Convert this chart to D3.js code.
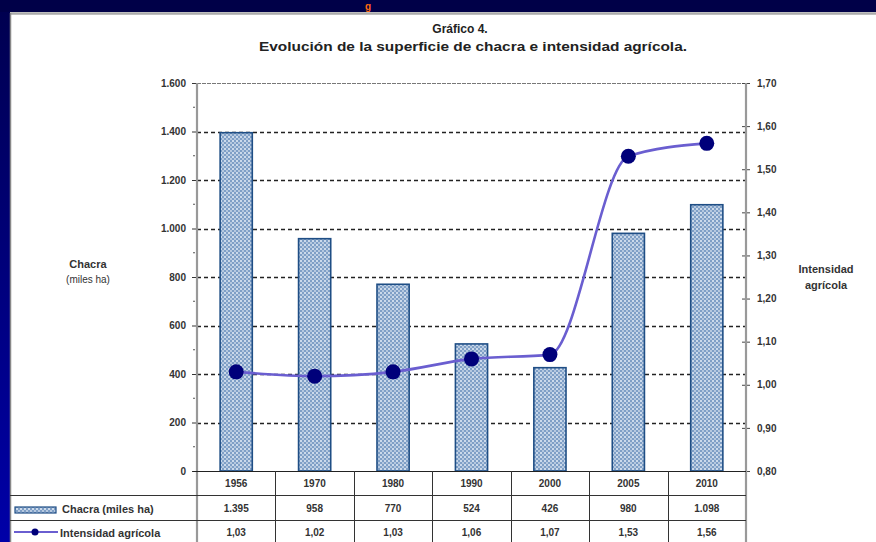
<!DOCTYPE html>
<html><head><meta charset="utf-8">
<script src="https://cdn.jsdelivr.net/npm/d3@7"></script>
<style>html,body{margin:0;padding:0;background:#000048;}svg{display:block;font-family:"Liberation Sans",Arial,sans-serif;}</style>
</head><body>
<svg id="c" width="876" height="542"></svg>
<script>
const years = ["1956","1970","1980","1990","2000","2005","2010"];
const chacra = [1395, 958, 770, 524, 426, 980, 1098];
const chacraLabels = ["1.395","958","770","524","426","980","1.098"];
const intensidad = [1.03, 1.02, 1.03, 1.06, 1.07, 1.53, 1.56];
const intensidadLabels = ["1,03","1,02","1,03","1,06","1,07","1,53","1,56"];
const leftTicks = [0,200,400,600,800,1000,1200,1400,1600];
const leftTickLabels = ["0","200","400","600","800","1.000","1.200","1.400","1.600"];
const rightTicks = [0.8,0.9,1.0,1.1,1.2,1.3,1.4,1.5,1.6,1.7];
const rightTickLabels = ["0,80","0,90","1,00","1,10","1,20","1,30","1,40","1,50","1,60","1,70"];

const svg = d3.select("#c");
const defs = svg.append("defs");
const lg = defs.append("linearGradient").attr("id","side").attr("x1",0).attr("y1",0).attr("x2",0).attr("y2",1);
lg.append("stop").attr("offset","0%").attr("stop-color","#000050");
lg.append("stop").attr("offset","100%").attr("stop-color","#0000a8");
const pat = defs.append("pattern").attr("id","dots").attr("patternUnits","userSpaceOnUse").attr("width",4).attr("height",4);
pat.append("rect").attr("width",4).attr("height",4).attr("fill","#7f9fc6");
pat.append("circle").attr("cx",1).attr("cy",1).attr("r",1).attr("fill","#e6eef8");
pat.append("circle").attr("cx",3).attr("cy",3).attr("r",0.9).attr("fill","#d0dcec");

// background
svg.append("rect").attr("width",876).attr("height",542).attr("fill","#000048");
svg.append("rect").attr("x",0).attr("y",12).attr("width",10).attr("height",530).attr("fill","url(#side)");
// white panel
svg.append("rect").attr("x",10).attr("y",12).attr("width",866).attr("height",530).attr("fill","#ffffff");
svg.append("line").attr("x1",10).attr("x2",876).attr("y1",13.5).attr("y2",13.5).attr("stroke","#aaa").attr("stroke-width",2.5);
svg.append("line").attr("x1",10.5).attr("x2",10.5).attr("y1",13).attr("y2",542).attr("stroke","#888").attr("stroke-width",1.5);
svg.append("text").attr("x",368).attr("y",9.5).attr("text-anchor","middle").attr("font-size",10)
  .attr("font-weight","bold").attr("fill","#ff6a10").text("g");

// titles
svg.append("text").attr("x",460).attr("y",33).attr("text-anchor","middle").attr("font-size",12)
  .attr("font-weight","bold").attr("fill","#222").text("Gráfico 4.");
svg.append("text").attr("x",473).attr("y",51).attr("text-anchor","middle").attr("font-size",12.5)
  .attr("font-weight","bold").attr("fill","#222").attr("textLength",428).attr("lengthAdjust","spacingAndGlyphs")
  .text("Evolución de la superficie de chacra e intensidad agrícola.");

const x0 = 197, x1 = 746, yTop = 83, yBot = 471;
const x = d3.scaleBand().domain(years).range([x0,x1]).paddingInner(0.59).paddingOuter(0.295);
const xb = d3.scaleBand().domain(years).range([x0,x1]);
const yL = d3.scaleLinear().domain([0,1600]).range([yBot,yTop]);
const yR = d3.scaleLinear().domain([0.8,1.7]).range([yBot,yTop]);

// gridlines
svg.append("g").selectAll("line").data(leftTicks.filter(d=>d>0 && d<1600)).join("line")
  .attr("x1",x0).attr("x2",x1).attr("y1",d=>Math.round(yL(d))+0.5).attr("y2",d=>Math.round(yL(d))+0.5)
  .attr("stroke","#222").attr("stroke-width",1.4).attr("stroke-dasharray","4,3");
svg.append("line").attr("x1",x0).attr("x2",x1).attr("y1",yTop+0.5).attr("y2",yTop+0.5)
  .attr("stroke","#555").attr("stroke-width",0.8).attr("stroke-dasharray","4,1");

// bars
svg.append("g").selectAll("rect").data(chacra).join("rect")
  .attr("x",(d,i)=>x(years[i])).attr("width",x.bandwidth())
  .attr("y",d=>yL(d)).attr("height",d=>yBot-yL(d))
  .attr("fill","url(#dots)").attr("stroke","#1f4e85").attr("stroke-width",1.6);

// left axis
const axL = svg.append("g").attr("transform",`translate(${x0},0)`)
  .call(d3.axisLeft(yL).tickValues(leftTicks).tickFormat((d,i)=>leftTickLabels[i]).tickSize(5).tickPadding(6));
axL.select(".domain").remove();
axL.selectAll(".tick line").attr("stroke","#333");
axL.selectAll("text").attr("font-size",10).attr("font-weight","bold").attr("fill","#333");
svg.append("g").selectAll("line").data(d3.range(100,1600,200)).join("line")
  .attr("x1",x0-4).attr("x2",x0-2).attr("y1",d=>yL(d)).attr("y2",d=>yL(d)).attr("stroke","#555");
svg.append("line").attr("x1",x0).attr("x2",x0).attr("y1",yTop).attr("y2",542).attr("stroke","#999").attr("stroke-width",2.2);

// right axis
const axR = svg.append("g").attr("transform",`translate(${x1},0)`)
  .call(d3.axisRight(yR).tickValues(rightTicks).tickFormat((d,i)=>rightTickLabels[i]).tickSize(4).tickPadding(7));
axR.select(".domain").remove();
axR.selectAll(".tick line").attr("x1",-4).attr("stroke","#444");
axR.selectAll("text").attr("font-size",10).attr("font-weight","bold").attr("fill","#333");
svg.append("line").attr("x1",x1).attr("x2",x1).attr("y1",yTop).attr("y2",542).attr("stroke","#999").attr("stroke-width",2.2);

// line series
const line = d3.line().x((d,i)=>xb(years[i])+xb.bandwidth()/2).y(d=>yR(d)).curve(d3.curveMonotoneX);
svg.append("path").datum(intensidad).attr("d",line).attr("fill","none").attr("stroke","#6a5ed0").attr("stroke-width",2.6);
svg.append("g").selectAll("circle").data(intensidad).join("circle")
  .attr("cx",(d,i)=>xb(years[i])+xb.bandwidth()/2).attr("cy",d=>yR(d)).attr("r",7.5).attr("fill","#00007a");

// x axis line
svg.append("line").attr("x1",x0-4).attr("x2",x1).attr("y1",yBot+0.5).attr("y2",yBot+0.5).attr("stroke","#222").attr("stroke-width",1.2);

// data table
const rowY = [495.5, 520.5];
rowY.forEach(yy=>{
  svg.append("line").attr("x1",10).attr("x2",x1).attr("y1",yy).attr("y2",yy).attr("stroke","#333").attr("stroke-width",1);
});
svg.append("g").selectAll("line").data(years.slice(1)).join("line")
  .attr("x1",d=>Math.round(xb(d))+0.5).attr("x2",d=>Math.round(xb(d))+0.5).attr("y1",yBot).attr("y2",542)
  .attr("stroke","#333").attr("stroke-width",1);
const cx = d=>xb(d)+xb.bandwidth()/2;
const tbl = svg.append("g").attr("font-size",10).attr("font-weight","bold").attr("fill","#333").attr("text-anchor","middle");
tbl.selectAll(".yr").data(years).join("text").attr("class","yr").attr("x",cx).attr("y",487).text(d=>d);
tbl.selectAll(".ch").data(chacraLabels).join("text").attr("class","ch").attr("x",(d,i)=>cx(years[i])).attr("y",512).text(d=>d);
tbl.selectAll(".in").data(intensidadLabels).join("text").attr("class","in").attr("x",(d,i)=>cx(years[i])).attr("y",536).text(d=>d);

// legend in table
svg.append("rect").attr("x",15).attr("y",507).attr("width",41).attr("height",6).attr("fill","url(#dots)").attr("stroke","#1f4e85").attr("stroke-width",1.2);
svg.append("text").attr("x",62).attr("y",513).attr("font-size",11).attr("font-weight","bold").attr("fill","#333").text("Chacra (miles ha)");
svg.append("line").attr("x1",14).attr("x2",58).attr("y1",532).attr("y2",532).attr("stroke","#6a5ed0").attr("stroke-width",2);
svg.append("circle").attr("cx",35).attr("cy",532).attr("r",3.5).attr("fill","#00007a");
svg.append("text").attr("x",60).attr("y",537).attr("font-size",11).attr("font-weight","bold").attr("fill","#333").text("Intensidad agrícola");

// axis titles
svg.append("text").attr("x",88).attr("y",268).attr("text-anchor","middle").attr("font-size",11).attr("font-weight","bold").attr("fill","#333").text("Chacra");
svg.append("text").attr("x",88).attr("y",283).attr("text-anchor","middle").attr("font-size",10).attr("fill","#333").text("(miles ha)");
svg.append("text").attr("x",826).attr("y",273).attr("text-anchor","middle").attr("font-size",11).attr("font-weight","bold").attr("fill","#333").text("Intensidad");
svg.append("text").attr("x",826).attr("y",289).attr("text-anchor","middle").attr("font-size",11).attr("font-weight","bold").attr("fill","#333").text("agrícola");
</script>
</body></html>
